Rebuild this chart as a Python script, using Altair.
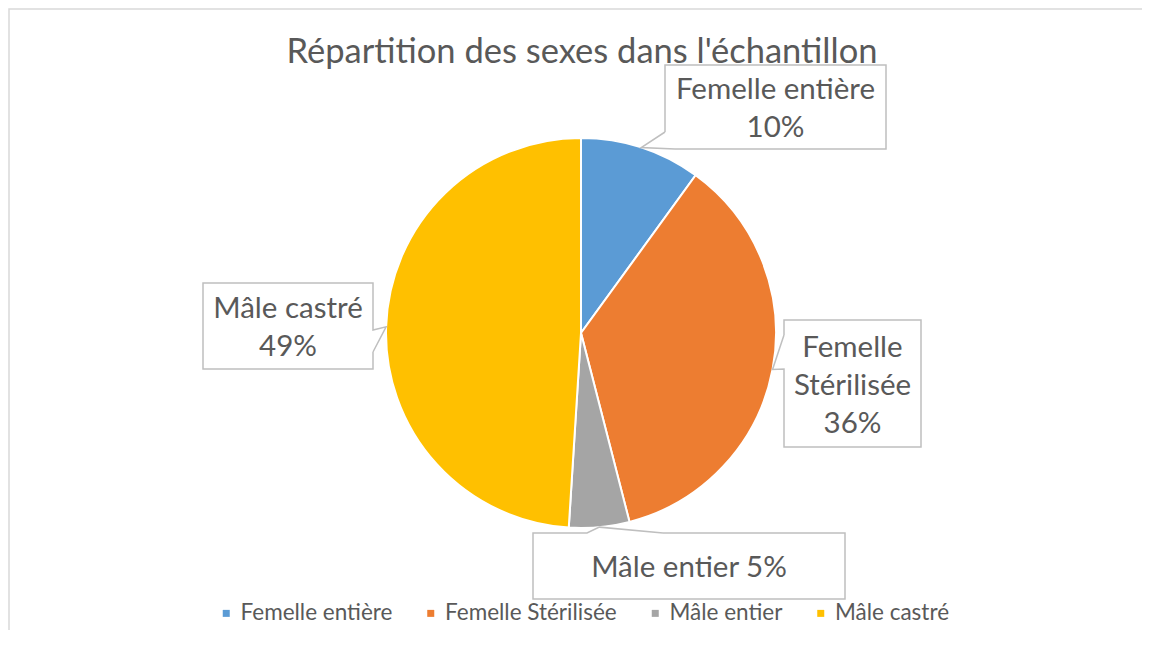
import math
import altair as alt
import pandas as pd

# ---------------- data ----------------
categories = ["Femelle entière", "Femelle Stérilisée", "Mâle entier", "Mâle castré"]
values = [10, 36, 5, 49]
label_names = ["Femelle entière", "Femelle\nStérilisée", "Mâle entier", "Mâle castré"]
label_joins = ["\n", "\n", " ", "\n"]
title_text = "Répartition des sexes dans l'échantillon"

# ---------------- style / layout ----------------
colors = ["#5B9BD5", "#ED7D31", "#A5A5A5", "#FFC000"]
FONT = "Lato"
TXT = "#595959"
W, H = 1134, 622
CX, CY, R = 573, 325, 195
LABEL_SIZE = 29.5
LINE_H = 38
# callout boxes: left, top, width, height, pointer base s1, s2 (perimeter positions)
boxes = [
    (657, 57, 221, 84, 2 * 221 + 84 - 10, 2 * 221 + 84 + 17),
    (776, 312, 137, 127, 2 * 137 + 127 + 78, 2 * 137 + 127 + 112),
    (525, 525, 312, 66, 54, 130),
    (195, 275, 170, 86, 170 + 47, 170 + 69),
]


def perim_point(l, t, w, h, s):
    P = 2 * w + 2 * h
    s = s % P
    if s <= w:
        return (l + s, t)
    if s <= w + h:
        return (l + w, t + (s - w))
    if s <= 2 * w + h:
        return (l + w - (s - w - h), t + h)
    return (l, t + h - (s - 2 * w - h))


def callout(l, t, w, h, s1, s2, tip):
    P = 2 * w + 2 * h
    corners = [0, w, w + h, 2 * w + h]
    allc = corners + [c + P for c in corners]
    end = s1 if s1 > s2 else s1 + P
    pts = [perim_point(l, t, w, h, s2)]
    for c in allc:
        if s2 < c < end:
            pts.append(perim_point(l, t, w, h, c))
    pts.append(perim_point(l, t, w, h, s1))
    pts.append(tip)
    pts.append(perim_point(l, t, w, h, s2))
    return pts


total = sum(values)
pie_df = pd.DataFrame({"cat": categories, "value": values, "idx": list(range(len(values)))})

path_rows = []
text_rows = []
cum = 0
for i, (cat, v) in enumerate(zip(categories, values)):
    mid = (cum + v / 2) / total
    cum += v
    a = 2 * math.pi * mid
    tip = (CX + R * math.sin(a), CY - R * math.cos(a))
    l, t, w, h, s1, s2 = boxes[i]
    for k, (px, py) in enumerate(callout(l, t, w, h, s1, s2, tip)):
        path_rows.append({"cid": i, "k": k, "px": px, "py": py})
    pct = round(100 * v / total)
    lines = (label_names[i] + label_joins[i] + f"{pct}%").split("\n")
    n = len(lines)
    cxb, cyb = l + w / 2, t + h / 2
    for j, line in enumerate(lines):
        text_rows.append({"txt": line, "px": cxb, "py": cyb + (j - (n - 1) / 2) * LINE_H + 11})

# chart frame (left and top edges only are visible in the reference)
path_rows += [
    {"cid": 99, "k": 0, "px": 1, "py": H},
    {"cid": 99, "k": 1, "px": 1, "py": 1},
    {"cid": 99, "k": 2, "px": W, "py": 1},
]

path_df = pd.DataFrame(path_rows)
path_df["kind"] = ["frame" if c == 99 else "callout" for c in path_df["cid"]]
text_df = pd.DataFrame(text_rows)
title_df = pd.DataFrame({"txt": [title_text], "px": [574], "py": [55]})

pie = alt.Chart(pie_df).mark_arc(radius=R, stroke="white", strokeWidth=2).encode(
    theta=alt.Theta("value:Q", stack=True),
    order=alt.Order("idx:Q"),
    color=alt.Color(
        "cat:N",
        scale=alt.Scale(domain=categories, range=colors),
        legend=alt.Legend(
            orient="none",
            legendX=207,
            legendY=594,
            direction="horizontal",
            title=None,
            symbolType="square",
            symbolSize=49,
            symbolStrokeWidth=0,
            labelFontSize=22.5,
            labelFont=FONT,
            labelColor=TXT,
            labelOffset=3,
            labelLimit=0,
            columnPadding=26.5,
            padding=0,
        ),
    ),
    x=alt.value(CX),
    y=alt.value(CY),
)

callouts = alt.Chart(path_df).transform_filter(alt.datum.kind == "callout").mark_line(
    color="#BFBFBF", strokeWidth=1.5, strokeJoin="miter"
).encode(
    x=alt.X("px:Q", scale=None, axis=None),
    y=alt.Y("py:Q", scale=None, axis=None),
    detail="cid:N",
    order="k:Q",
)

frame = alt.Chart(path_df).transform_filter(alt.datum.kind == "frame").mark_line(
    color="#D9D9D9", strokeWidth=1.5, strokeJoin="miter"
).encode(
    x=alt.X("px:Q", scale=None, axis=None),
    y=alt.Y("py:Q", scale=None, axis=None),
    order="k:Q",
)

labels = alt.Chart(text_df).mark_text(
    font=FONT, fontSize=LABEL_SIZE, color=TXT, align="center", baseline="alphabetic"
).encode(
    x=alt.X("px:Q", scale=None, axis=None),
    y=alt.Y("py:Q", scale=None, axis=None),
    text="txt:N",
)

title = alt.Chart(title_df).mark_text(
    font=FONT, fontSize=34.5, color=TXT, align="center", baseline="alphabetic"
).encode(
    x=alt.X("px:Q", scale=None, axis=None),
    y=alt.Y("py:Q", scale=None, axis=None),
    text="txt:N",
)

chart = (
    alt.layer(frame, pie, callouts, labels, title)
    .properties(width=W, height=H, autosize=alt.AutoSizeParams(type="none"), padding=0, background="white")
    .configure_view(stroke="transparent", strokeWidth=0)
)

chart.save("out.html", embed_options={"renderer": "svg", "actions": False})
